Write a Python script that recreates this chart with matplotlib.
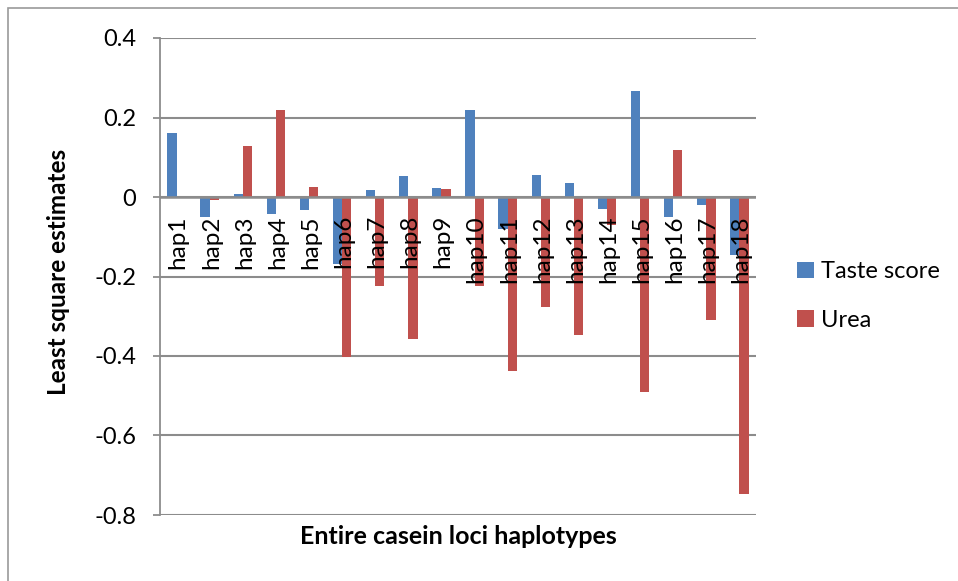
import numpy as np
import matplotlib
matplotlib.use("Agg")
import matplotlib.pyplot as plt
from matplotlib.patches import Rectangle

plt.rcParams['font.family'] = ['Lato', 'DejaVu Sans']

# least square estimates per haplotype
haplotypes = ['hap' + str(i) for i in range(1, 19)]
taste_score = [0.161, -0.050, 0.007, -0.043, -0.032, -0.168, 0.017, 0.053, 0.022,
               0.218, -0.080, 0.055, 0.036, -0.029, 0.266, -0.050, -0.019, -0.145]
urea = [0.0, -0.007, 0.128, 0.220, 0.024, -0.403, -0.224, -0.358, 0.019,
        -0.225, -0.437, -0.276, -0.346, -0.071, -0.490, 0.119, -0.310, -0.746]
y_ticks = [0.4, 0.2, 0, -0.2, -0.4, -0.6, -0.8]

W, H = 958, 581
fig = plt.figure(figsize=(W / 100, H / 100), dpi=100)

# thin outer frame of the chart
fig.patches.append(Rectangle((8 / W, -0.1), 1.2, 1 - 8 / H + 0.1, transform=fig.transFigure,
                             fill=False, edgecolor='#9a9a9a', linewidth=1.2))

ax = fig.add_axes([160 / W, 1 - 515 / H, 596 / W, 477 / H])

x = np.arange(len(haplotypes))
bw = 0.28
ax.bar(x - bw / 2, taste_score, bw, color='#4F81BD', label='Taste score', zorder=3)
ax.bar(x + bw / 2, urea, bw, color='#C0504D', label='Urea', zorder=3)

ax.set_xlim(-0.5, len(haplotypes) - 0.5)
ax.set_ylim(-0.8, 0.4)
ax.set_yticks(y_ticks)
ax.set_yticklabels([('%g' % t) for t in y_ticks], fontsize=17)
ax.tick_params(axis='y', direction='out', length=5, width=1.3, color='#8c8c8c', pad=12)
ax.set_xticks([])

for t in y_ticks:
    ax.axhline(t, color='#8c8c8c', linewidth=1.5, zorder=1)
ax.axhline(0, color='#8c8c8c', linewidth=1.8, zorder=4)

for s in ['top', 'right', 'bottom']:
    ax.spines[s].set_visible(False)
ax.spines['left'].set_color('#8c8c8c')
ax.spines['left'].set_linewidth(1.3)

# category labels sit just under the zero line
for xi, name in zip(x, haplotypes):
    ax.annotate(name, (xi + 0.05, 0), xytext=(0, -13), textcoords='offset points',
                rotation=90, ha='center', va='top', fontsize=17.5, zorder=5)

ax.set_ylabel('Least square estimates', fontsize=17.5, fontweight='bold')
ax.yaxis.set_label_coords(-90 / 596, 0.51)
fig.text(458 / W, 1 - 536 / H, 'Entire casein loci haplotypes', ha='center', va='center',
         fontsize=18, fontweight='bold')

fig.legend(loc='center left', bbox_to_anchor=(776 / W, 1 - 296 / H), frameon=False,
           fontsize=17, handlelength=0.7, handleheight=0.7, handletextpad=0.3,
           labelspacing=1.15)

fig.savefig('out.png', dpi=100)
